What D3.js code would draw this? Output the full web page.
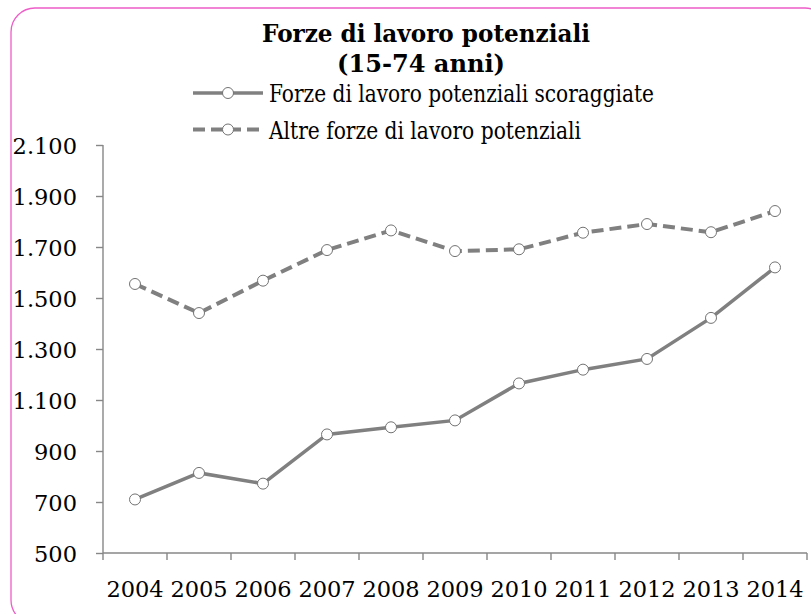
<!DOCTYPE html>
<html>
<head>
<meta charset="utf-8">
<script src="https://cdn.jsdelivr.net/npm/d3@7"></script>
<style>
  html, body { margin: 0; padding: 0; background: #fff; }
  svg { display: block; }
</style>
</head>
<body>
<svg id="chart" width="811" height="614"></svg>
<script>
// ---- data ----
const years = ["2004","2005","2006","2007","2008","2009","2010","2011","2012","2013","2014"];
const scoraggiate = [710, 814, 772, 965, 993, 1020, 1165, 1219, 1261, 1422, 1620];
const altre = [1555, 1441, 1568, 1688, 1765, 1684, 1691, 1756, 1790, 1758, 1841];
const yTicks = [500, 700, 900, 1100, 1300, 1500, 1700, 1900, 2100];
const titleLines = ["Forze di lavoro potenziali", "(15-74 anni)"];
const seriesNames = ["Forze di lavoro potenziali scoraggiate", "Altre forze di lavoro potenziali"];

// ---- layout ----
const FONT = "'DejaVu Serif', 'Liberation Serif', serif";
const GRAY = "#808080";
const AXIS = "#878787";
const svg = d3.select("#chart");

// outer rounded border
svg.append("rect")
  .attr("x", 11).attr("y", 8).attr("width", 818).attr("height", 616)
  .attr("rx", 24).attr("ry", 24)
  .attr("fill", "none").attr("stroke", "#ee5cc8").attr("stroke-width", 1.3);

const x = d3.scaleBand().domain(years).range([103, 807]).padding(0);
const y = d3.scaleLinear().domain([500, 2100]).range([553, 145]);
const cx = d => x(d) + x.bandwidth() / 2;

const locale = d3.formatLocale({decimal: ",", thousands: ".", grouping: [3], currency: ["", " €"]});
const fmt = locale.format(",d");

// y axis
const gy = svg.append("g").attr("transform", "translate(103,0)")
  .call(d3.axisLeft(y).tickValues(yTicks).tickFormat(fmt).tickSize(7).tickPadding(19));
gy.select(".domain").attr("stroke", AXIS).attr("stroke-width", 1.4)
  .attr("d", `M0,${y(2100)}V${y(500)}`);
gy.selectAll(".tick line").attr("stroke", AXIS).attr("stroke-width", 1.4);
gy.selectAll(".tick text").attr("font-family", FONT).attr("font-size", 22.5)
  .attr("fill", "#000").attr("dy", "0.36em");

// x axis
const gx = svg.append("g").attr("transform", `translate(0,${y(500)})`)
  .call(d3.axisBottom(x).tickSize(0).tickPadding(0));
gx.select(".domain").attr("stroke", AXIS).attr("stroke-width", 1.4)
  .attr("d", `M${x.range()[0]},0H${x.range()[1]}`);
gx.selectAll(".tick text").attr("font-family", FONT).attr("font-size", 22.5)
  .attr("fill", "#000").attr("dy", null).attr("y", 44);
const bounds = years.map(d => x(d)).concat([x.range()[1]]);
gx.selectAll(".bound").data(bounds).enter().append("line")
  .attr("class", "bound")
  .attr("x1", d => d).attr("x2", d => d).attr("y1", 0).attr("y2", 7)
  .attr("stroke", AXIS).attr("stroke-width", 1.4);

// lines
const line = d3.line().x((d, i) => cx(years[i])).y(d => y(d));
const series = [
  {name: seriesNames[0], values: scoraggiate, dash: null, w: 3.5},
  {name: seriesNames[1], values: altre, dash: "12,6", w: 4}
];
series.forEach(s => {
  svg.append("path").datum(s.values)
    .attr("d", line)
    .attr("fill", "none").attr("stroke", GRAY).attr("stroke-width", s.w)
    .attr("stroke-dasharray", s.dash);
  svg.append("g").selectAll("circle").data(s.values).enter().append("circle")
    .attr("cx", (d, i) => cx(years[i])).attr("cy", d => y(d)).attr("r", 5.5)
    .attr("fill", "#fff").attr("stroke", "#737373").attr("stroke-width", 1);
});

// title
const titleSpec = [
  {text: titleLines[0], x: 426, y: 42, w: 328},
  {text: titleLines[1], x: 421, y: 71.5, w: 168}
];
titleSpec.forEach(t => {
  svg.append("text").text(t.text)
    .attr("x", t.x).attr("y", t.y).attr("text-anchor", "middle")
    .attr("font-family", FONT).attr("font-weight", "bold").attr("font-size", 25)
    .attr("fill", "#000")
    .attr("textLength", t.w).attr("lengthAdjust", "spacingAndGlyphs");
});

// legend
const legendRows = [
  {y: 93, w: 385},
  {y: 129.5, w: 312}
];
series.forEach((s, i) => {
  const r = legendRows[i];
  const g = svg.append("g");
  g.append("line").attr("x1", 193).attr("x2", 263).attr("y1", r.y).attr("y2", r.y)
    .attr("stroke", GRAY).attr("stroke-width", s.w).attr("stroke-dasharray", s.dash);
  g.append("circle").attr("cx", 228).attr("cy", r.y).attr("r", 5.5)
    .attr("fill", "#fff").attr("stroke", "#737373").attr("stroke-width", 1);
  g.append("text").text(s.name)
    .attr("x", 269).attr("y", r.y + 9)
    .attr("font-family", FONT).attr("font-size", 24.5).attr("fill", "#000")
    .attr("textLength", r.w).attr("lengthAdjust", "spacingAndGlyphs");
});
</script>
</body>
</html>
